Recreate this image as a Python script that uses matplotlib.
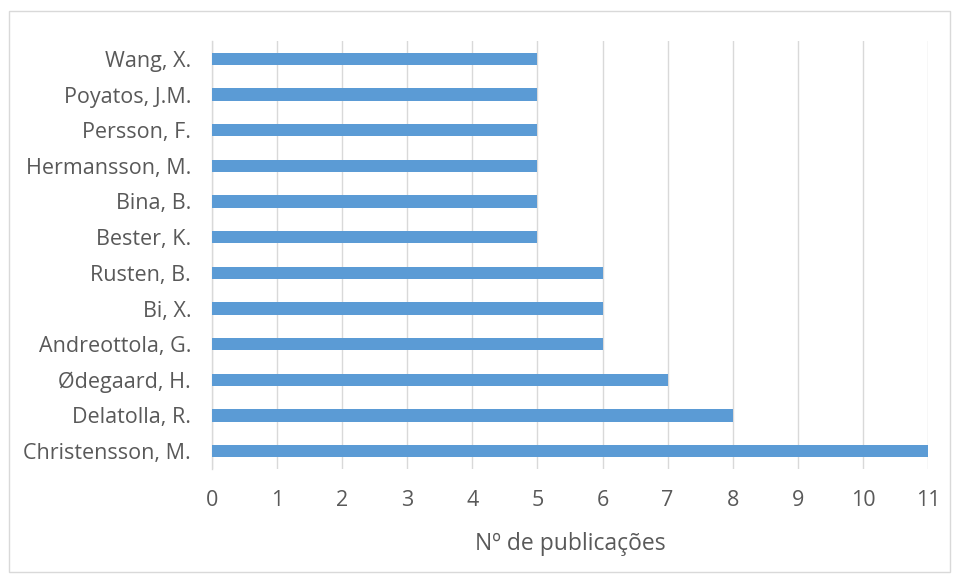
import matplotlib
matplotlib.use("Agg")
import matplotlib.pyplot as plt
from matplotlib.patches import Rectangle

authors = ["Christensson, M.", "Delatolla, R.", "Ødegaard, H.", "Andreottola, G.",
           "Bi, X.", "Rusten, B.", "Bester, K.", "Bina, B.", "Hermansson, M.",
           "Persson, F.", "Poyatos, J.M.", "Wang, X."]
publications = [11, 8, 7, 6, 6, 6, 5, 5, 5, 5, 5, 5]
xticks = list(range(0, 12))
xlabel = "Nº de publicações"

plt.rcParams['font.family'] = ['Open Sans', 'DejaVu Sans']
text_color = '#595959'

fig = plt.figure(figsize=(9.59, 5.81), dpi=100)
fig.patches.append(Rectangle((9/959, 1-572/581), (950-9)/959, (572-11)/581,
                             transform=fig.transFigure, fill=False,
                             edgecolor='#D9D9D9', linewidth=1))
ax = fig.add_axes([212/959, 1-469/581, (928-212)/959, (469-41)/581])

ax.barh(range(len(authors)), publications, height=0.34, color='#5B9BD5', zorder=3)
ax.set_ylim(-0.5, len(authors)-0.5)
ax.set_xlim(0, 11)
ax.set_xticks(xticks)
ax.set_yticks(range(len(authors)))
ax.set_yticklabels(authors)
ax.grid(axis='x', color='#D9D9D9', linewidth=1, zorder=0)
for s in ['top', 'right', 'bottom']:
    ax.spines[s].set_visible(False)
ax.spines['left'].set_color('#D9D9D9')
ax.spines['left'].set_linewidth(1)
ax.tick_params(axis='both', length=0, labelsize=15.5, colors=text_color)
ax.tick_params(axis='x', pad=15)
ax.tick_params(axis='y', pad=15)
ax.set_xlabel(xlabel, fontsize=16.5, color=text_color, labelpad=15)

fig.savefig("out.png", dpi=100)
